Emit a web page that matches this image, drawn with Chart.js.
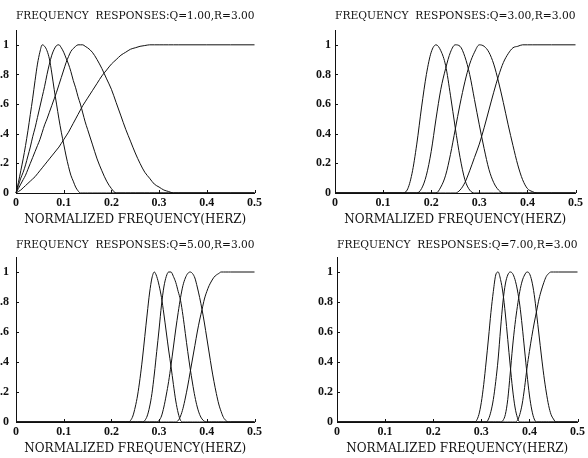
<!DOCTYPE html>
<html>
<head>
<meta charset="utf-8">
<script src="https://cdn.jsdelivr.net/npm/chart.js@4.4.1/dist/chart.umd.min.js"></script>
<style>
  html, body { margin: 0; padding: 0; background: #fff; }
  body { width: 588px; height: 458px; position: relative; overflow: hidden; }
  canvas { position: absolute; }
</style>
</head>
<body>
<canvas id="q1" width="279" height="229" style="left:-14px;top:0px"></canvas>
<canvas id="q3" width="281" height="229" style="left:305px;top:0px"></canvas>
<canvas id="q5" width="279" height="229" style="left:-14px;top:229px"></canvas>
<canvas id="q7" width="281" height="229" style="left:307px;top:229px"></canvas>
<script>
// sample frequencies (normalized, Hz) and band responses
const freqQ1 = [0,0.005,0.01,0.015,0.02,0.025,0.03,0.035,0.04,0.045,0.05,0.055,0.06,0.065,0.07,0.075,0.08,0.085,0.09,0.095,0.1,0.105,0.11,0.115,0.12,0.125,0.13,0.135,0.14,0.145,0.15,
  0.16,0.17,0.18,0.19,0.2,0.21,0.22,0.23,0.24,0.25,0.26,0.27,0.28,0.29,0.3,0.31,0.32,0.33,0.34,
  0.4,0.45,0.5];
const q1Band1 = [0,0.07,0.15,0.23,0.32,0.42,0.53,0.64,0.76,0.87,0.95,1.0,0.99,0.96,0.905,0.81,0.70,0.60,0.50,0.41,0.33,0.25,0.18,0.12,0.08,0.04,0.015,0,0,0,0,
  0,0,0,0,0,0,0,0,0,0,0,0,0,0,0,0,0,0,0,
  0,0,0];
const q1Band2 = [0,0.05,0.1,0.14,0.19,0.25,0.31,0.38,0.44,0.51,0.58,0.65,0.72,0.8,0.87,0.93,0.97,0.995,1.0,0.98,0.95,0.91,0.87,0.82,0.76,0.71,0.65,0.6,0.54,0.48,0.43,
  0.33,0.23,0.15,0.08,0.03,0,0,0,0,0,0,0,0,0,0,0,0,0,0,
  0,0,0];
const q1Band3 = [0,0.03,0.06,0.09,0.12,0.16,0.2,0.24,0.28,0.32,0.36,0.41,0.46,0.5,0.545,0.59,0.635,0.68,0.73,0.78,0.83,0.88,0.92,0.955,0.975,0.99,1.0,1.0,1.0,0.99,0.98,
  0.95,0.9,0.84,0.77,0.7,0.61,0.52,0.43,0.35,0.27,0.2,0.14,0.1,0.06,0.04,0.02,0.01,0,0,
  0,0,0];
const q1Band4 = [0,0.01,0.02,0.035,0.05,0.065,0.08,0.095,0.11,0.13,0.15,0.17,0.19,0.21,0.23,0.25,0.27,0.29,0.31,0.335,0.36,0.385,0.41,0.44,0.47,0.5,0.53,0.56,0.59,0.615,0.64,
  0.69,0.74,0.79,0.83,0.87,0.9,0.93,0.95,0.97,0.98,0.99,0.995,1,1,1,1,1,1,1,
  1,1,1];

const freqQ3 = [0,0.1,0.14,0.15,0.16,0.17,0.18,0.19,0.2,0.21,0.22,0.23,0.24,0.25,0.26,0.27,0.28,0.29,0.3,0.31,0.32,0.33,0.34,0.35,0.36,0.37,0.38,0.39,0.4,0.41,0.42,0.45,0.5];
const q3Band1 = [0,0,0,0.02,0.13,0.33,0.58,0.8,0.95,1,0.96,0.86,0.66,0.44,0.24,0.09,0.02,0,0,0,0,0,0,0,0,0,0,0,0,0,0,0,0];
const q3Band2 = [0,0,0,0,0,0,0.03,0.12,0.28,0.5,0.7,0.84,0.95,1,0.99,0.92,0.8,0.63,0.46,0.3,0.16,0.07,0.02,0,0,0,0,0,0,0,0,0,0];
const q3Band3 = [0,0,0,0,0,0,0,0,0,0,0.04,0.12,0.26,0.43,0.6,0.75,0.87,0.95,1,0.99,0.95,0.87,0.75,0.61,0.46,0.32,0.19,0.09,0.03,0.01,0,0,0];
const q3Band4 = [0,0,0,0,0,0,0,0,0,0,0,0,0,0,0.02,0.07,0.15,0.24,0.33,0.44,0.56,0.68,0.79,0.88,0.94,0.98,0.99,1,1,1,1,1,1];

const freqQ5 = [0,0.1,0.2,0.23,0.235,0.24,0.245,0.25,0.255,0.26,0.265,0.27,0.275,0.28,0.285,0.29,0.295,0.3,0.305,0.31,0.315,0.32,0.325,0.33,0.335,0.34,0.345,0.35,0.355,0.36,0.365,0.37,0.375,0.38,0.385,0.39,0.395,0.4,0.405,0.41,0.415,0.42,0.425,0.43,0.435,0.44,0.445,0.45,0.5];
const q5Band1 = [0,0,0,0,0,0.01,0.04,0.1,0.18,0.29,0.42,0.57,0.72,0.86,0.96,1.0,0.97,0.91,0.83,0.72,0.6,0.48,0.37,0.25,0.14,0.06,0.01,0,0,0,0,0,0,0,0,0,0,0,0,0,0,0,0,0,0,0,0,0,0];
const q5Band2 = [0,0,0,0,0,0,0,0,0,0,0,0.01,0.04,0.1,0.19,0.32,0.47,0.62,0.78,0.9,0.97,1.0,1.0,0.97,0.93,0.87,0.81,0.71,0.59,0.47,0.36,0.26,0.17,0.1,0.05,0.02,0.005,0,0,0,0,0,0,0,0,0,0,0,0];
const q5Band3 = [0,0,0,0,0,0,0,0,0,0,0,0,0,0,0,0,0,0.01,0.04,0.1,0.18,0.27,0.38,0.5,0.62,0.73,0.83,0.91,0.96,0.99,1.0,0.99,0.96,0.9,0.83,0.75,0.66,0.56,0.46,0.36,0.27,0.19,0.12,0.07,0.03,0.01,0,0,0];
const q5Band4 = [0,0,0,0,0,0,0,0,0,0,0,0,0,0,0,0,0,0,0,0,0,0,0,0,0,0.01,0.04,0.09,0.16,0.24,0.33,0.42,0.51,0.6,0.68,0.75,0.82,0.87,0.91,0.94,0.965,0.98,0.99,1,1,1,1,1,1];

const freqQ7 = [0,0.1,0.2,0.25,0.28,0.285,0.29,0.295,0.3,0.305,0.31,0.315,0.32,0.325,0.33,0.335,0.34,0.345,0.35,0.355,0.36,0.365,0.37,0.375,0.38,0.385,0.39,0.395,0.4,0.405,0.41,0.415,0.42,0.425,0.43,0.435,0.44,0.445,0.45,0.455,0.46,0.5];
const q7Band1 = [0,0,0,0,0,0,0.01,0.05,0.13,0.25,0.4,0.56,0.73,0.87,0.98,1.0,0.95,0.86,0.72,0.55,0.38,0.22,0.1,0.03,0,0,0,0,0,0,0,0,0,0,0,0,0,0,0,0,0,0];
const q7Band2 = [0,0,0,0,0,0,0,0,0,0,0,0.02,0.07,0.15,0.27,0.42,0.62,0.8,0.92,0.98,1.0,0.99,0.95,0.88,0.78,0.64,0.48,0.32,0.18,0.08,0.02,0,0,0,0,0,0,0,0,0,0,0];
const q7Band3 = [0,0,0,0,0,0,0,0,0,0,0,0,0,0,0,0,0,0.01,0.05,0.15,0.32,0.5,0.65,0.77,0.87,0.94,0.98,1.0,0.99,0.94,0.85,0.72,0.58,0.44,0.31,0.2,0.11,0.05,0.02,0,0,0];
const q7Band4 = [0,0,0,0,0,0,0,0,0,0,0,0,0,0,0,0,0,0,0,0,0,0,0,0.01,0.05,0.12,0.23,0.36,0.47,0.57,0.66,0.74,0.82,0.88,0.93,0.97,0.99,1,1,1,1,1];

const xTitle = 'NORMALIZED FREQUENCY(HERZ)';

// "1" not "1.0", "0.2" etc.
const tickText = v => String(Number(v.toFixed(2)));

// small tick marks pointing into the plot
const innerTicks = {
  id: 'innerTicks',
  afterDraw(chart) {
    const { ctx, scales: { x, y } } = chart;
    ctx.save();
    ctx.strokeStyle = '#111';
    ctx.lineWidth = 1;
    ctx.beginPath();
    x.ticks.forEach(t => {
      const px = Math.round(x.getPixelForValue(t.value)) + 0.5;
      ctx.moveTo(px, x.top);
      ctx.lineTo(px, x.top - 3);
    });
    y.ticks.forEach(t => {
      const py = Math.round(y.getPixelForValue(t.value)) + 0.5;
      ctx.moveTo(y.right, py);
      ctx.lineTo(y.right + 3, py);
    });
    ctx.stroke();
    ctx.restore();
  }
};

function panel(id, title, freq, bands, titleBottom, yPad) {
  new Chart(document.getElementById(id), {
    type: 'line',
    data: {
      datasets: bands.map(b => ({
        data: freq.map((f, i) => ({ x: f, y: b[i] })),
        borderColor: '#111',
        borderWidth: 1,
        pointRadius: 0,
        cubicInterpolationMode: 'monotone',
        clip: 4
      }))
    },
    options: {
      responsive: false,
      animation: false,
      events: [],
      layout: { padding: { right: 8 } },
      plugins: {
        legend: { display: false },
        tooltip: { enabled: false },
        title: {
          display: true,
          text: title,
          fullSize: false,
          color: '#111',
          font: { family: 'DejaVu Serif', size: 11, weight: 'normal' },
          padding: { top: 9.4, bottom: titleBottom }
        }
      },
      scales: {
        x: {
          type: 'linear',
          min: 0,
          max: 0.5,
          grid: { display: false, drawTicks: false },
          border: { color: '#111', width: 1 },
          ticks: {
            stepSize: 0.1,
            padding: 3,
            maxRotation: 0,
            color: '#111',
            font: { family: 'Liberation Serif', size: 12, weight: 'bold' },
            callback: tickText
          },
          title: {
            display: true,
            text: xTitle,
            color: '#111',
            font: { family: 'DejaVu Serif', size: 12 },
            padding: { top: 0, bottom: 2 }
          },
          afterFit: s => { s.height = 36; }
        },
        y: {
          min: 0,
          max: 1.1,
          grid: { display: false, drawTicks: false },
          border: { color: '#111', width: 1 },
          ticks: {
            stepSize: 0.2,
            padding: yPad,
            color: '#111',
            font: { family: 'Liberation Serif', size: 12, weight: 'bold' },
            callback: tickText
          },
          afterBuildTicks: s => { s.ticks = s.ticks.filter(t => t.value <= 1.0001); },
          afterFit: s => { s.width = 30; }
        }
      }
    },
    plugins: [innerTicks]
  });
}

panel('q1', 'FREQUENCY  RESPONSES:Q=1.00,R=3.00', freqQ1, [q1Band1, q1Band2, q1Band3, q1Band4], 7.4, 7);
panel('q3', 'FREQUENCY  RESPONSES:Q=3.00,R=3.00', freqQ3, [q3Band1, q3Band2, q3Band3, q3Band4], 7.4, 4);
panel('q5', 'FREQUENCY  RESPONSES:Q=5.00,R=3.00', freqQ5, [q5Band1, q5Band2, q5Band3, q5Band4], 5.4, 7);
panel('q7', 'FREQUENCY  RESPONSES:Q=7.00,R=3.00', freqQ7, [q7Band1, q7Band2, q7Band3, q7Band4], 5.4, 4);
</script>
</body>
</html>
